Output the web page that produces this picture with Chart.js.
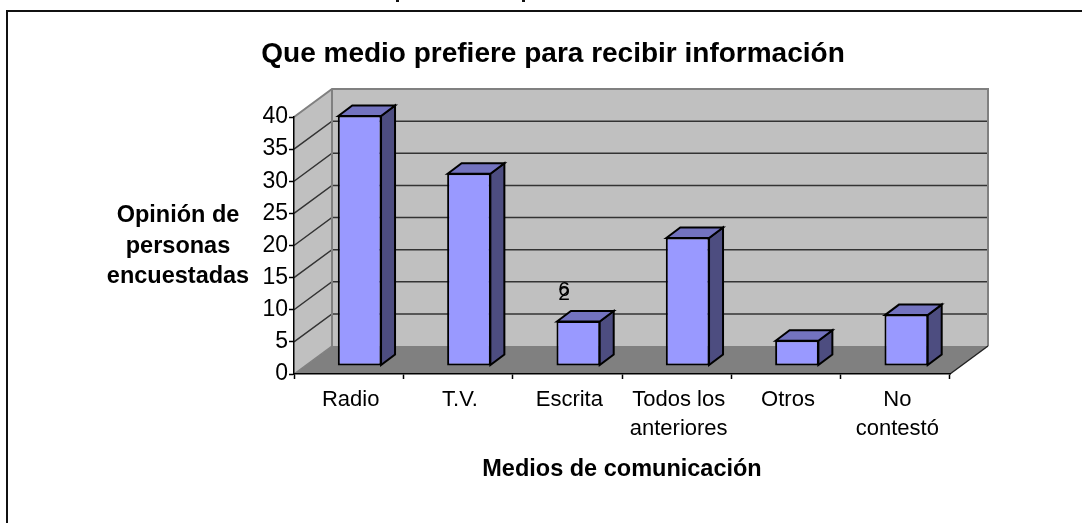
<!DOCTYPE html>
<html>
<head>
<meta charset="utf-8">
<style>
  html, body { margin: 0; padding: 0; background: #fff; overflow: hidden; }
  #wrap { position: relative; width: 1082px; height: 523px; }
</style>
<script src="https://cdn.jsdelivr.net/npm/chart.js@4"></script>
</head>
<body>
<div id="wrap"><canvas id="chart"></canvas></div>
<script>
const categories = ["Radio", "T.V.", "Escrita", ["Todos los", "anteriores"], "Otros", ["No", "contestó"]];
const opinions = [39, 30, 7, 20, 4, 8];
const yTicks = [0, 5, 10, 15, 20, 25, 30, 35, 40];
const chartTitle = "Que medio prefiere para recibir información";
const yTitleLines = ["Opinión de", "personas", "encuestadas"];
const xTitle = "Medios de comunicación";
const strayLabels = ["6", "2"];

const FONT = '"Liberation Sans", Arial, sans-serif';
const DEPTH_X = 38, DEPTH_Y = 28;      // back wall offset
const BAR_X = 11, BAR_Y = 8;           // bars sit in the middle of the floor
const SIDE_X = 14, SIDE_Y = 10.5;      // bar depth

function poly(ctx, pts, fill, stroke, lw) {
  ctx.beginPath();
  pts.forEach((p, i) => (i ? ctx.lineTo(p[0], p[1]) : ctx.moveTo(p[0], p[1])));
  ctx.closePath();
  ctx.fillStyle = fill;
  ctx.fill();
  if (stroke) {
    ctx.strokeStyle = stroke;
    ctx.lineWidth = lw;
    ctx.stroke();
  }
}

const box3d = {
  id: "box3d",
  beforeDraw(chart) {
    const { ctx, chartArea: a, scales } = chart;
    const l = a.left, r = a.right, t = a.top, b = a.bottom;

    // frame cut by the page edge, with the bits of heading above it
    ctx.save();
    ctx.fillStyle = "#111";
    ctx.fillRect(6, 10, 1076, 2);
    ctx.fillRect(6, 10, 2, 513);
    ctx.fillRect(396, 0, 3, 2);
    ctx.fillRect(522, 0, 3, 2);

    // walls and floor
    poly(ctx, [[l + DEPTH_X, t - DEPTH_Y], [r + DEPTH_X, t - DEPTH_Y], [r + DEPTH_X, b - DEPTH_Y], [l + DEPTH_X, b - DEPTH_Y]], "#C0C0C0");
    poly(ctx, [[l, t], [l + DEPTH_X, t - DEPTH_Y], [l + DEPTH_X, b - DEPTH_Y], [l, b]], "#C0C0C0");
    poly(ctx, [[l, b], [l + DEPTH_X, b - DEPTH_Y], [r + DEPTH_X, b - DEPTH_Y], [r, b]], "#808080");

    // grid on both walls
    yTicks.slice(1, -1).forEach((v) => {
      const y = scales.y.getPixelForValue(v);
      ctx.beginPath();
      ctx.moveTo(l, y);
      ctx.lineTo(l + DEPTH_X, y - DEPTH_Y);
      ctx.lineTo(r + DEPTH_X, y - DEPTH_Y);
      ctx.strokeStyle = "#333";
      ctx.lineWidth = 1.5;
      ctx.stroke();
    });

    // wall edges
    ctx.strokeStyle = "#808080";
    ctx.lineWidth = 2;
    ctx.beginPath();
    ctx.moveTo(l, t);
    ctx.lineTo(l + DEPTH_X, t - DEPTH_Y);
    ctx.lineTo(r + DEPTH_X, t - DEPTH_Y);
    ctx.lineTo(r + DEPTH_X, b - DEPTH_Y);
    ctx.moveTo(l + DEPTH_X, t - DEPTH_Y);
    ctx.lineTo(l + DEPTH_X, b - DEPTH_Y);
    ctx.stroke();

    // floor front edges
    ctx.strokeStyle = "#222";
    ctx.lineWidth = 1.5;
    ctx.beginPath();
    ctx.moveTo(r, b);
    ctx.lineTo(r + DEPTH_X, b - DEPTH_Y);
    ctx.stroke();
    ctx.strokeStyle = "#808080";
    ctx.beginPath();
    ctx.moveTo(l, b);
    ctx.lineTo(l + DEPTH_X, b - DEPTH_Y);
    ctx.stroke();
    ctx.restore();
  },
  beforeDatasetDraw(chart, args) {
    const ctx = chart.ctx;
    ctx.save();
    ctx.translate(BAR_X, -BAR_Y);
    chart.getDatasetMeta(args.index).data.forEach((bar) => {
      const p = bar.getProps(["x", "y", "base", "width"], true);
      const x0 = p.x - p.width / 2 + 0.5, x1 = p.x + p.width / 2 - 0.5;
      const y0 = p.y + 0.5, y1 = p.base - 0.5;
      poly(ctx, [[x1, y0], [x1 + SIDE_X, y0 - SIDE_Y], [x1 + SIDE_X, y1 - SIDE_Y], [x1, y1]], "#4D4D80", "#000", 2);
      poly(ctx, [[x0, y0], [x0 + SIDE_X, y0 - SIDE_Y], [x1 + SIDE_X, y0 - SIDE_Y], [x1, y0]], "#7373BF", "#000", 2);
    });
  },
  afterDatasetDraw(chart) {
    chart.ctx.restore();
  },
  afterDraw(chart) {
    const ctx = chart.ctx;
    ctx.save();
    ctx.fillStyle = "#000";
    ctx.textAlign = "center";
    ctx.textBaseline = "alphabetic";

    ctx.font = "bold 28px " + FONT;
    ctx.fillText(chartTitle, 553, 62);

    ctx.font = "bold 23.5px " + FONT;
    yTitleLines.forEach((line, i) => ctx.fillText(line, 178, 222 + i * 30.5));

    // the two labels printed on top of each other above the Escrita bar
    ctx.font = "21px " + FONT;
    ctx.fillText(strayLabels[0], 564, 296);
    ctx.fillText(strayLabels[1], 564, 300);
    ctx.restore();
  },
};

new Chart(document.getElementById("chart"), {
  type: "bar",
  data: {
    labels: categories,
    datasets: [{
      data: opinions,
      backgroundColor: "#9999FF",
      borderColor: "#000",
      borderWidth: 2,
      borderSkipped: false,
      barPercentage: 0.4,
      categoryPercentage: 1,
      clip: false,
    }],
  },
  options: {
    responsive: true,
    maintainAspectRatio: false,
    animation: false,
    layout: { padding: { top: 117, right: 132, left: 0, bottom: 0 } },
    plugins: { legend: { display: false }, title: { display: false }, tooltip: { enabled: false } },
    scales: {
      x: {
        afterFit(scale) { scale.height = 149; },
        grid: { drawOnChartArea: false, tickLength: 5, tickColor: "#000", tickWidth: 1.5 },
        border: { color: "#000", width: 1.5 },
        ticks: { color: "#000", maxRotation: 0, autoSkip: false, padding: 6, labelOffset: 2, font: { family: FONT, size: 22, lineHeight: 1.33 } },
        title: { display: true, text: xTitle, color: "#000", padding: { top: 0, bottom: 39 }, font: { family: FONT, size: 23.5, weight: "bold" } },
      },
      y: {
        min: 0,
        max: 40,
        afterFit(scale) { scale.width = 294; },
        afterBuildTicks(scale) { scale.ticks = yTicks.map((v) => ({ value: v })); },
        grid: { drawOnChartArea: false, tickLength: 5, tickColor: "#000", tickWidth: 1.5 },
        border: { color: "#000", width: 1.5 },
        ticks: { color: "#000", padding: 1, font: { family: FONT, size: 23 } },
      },
    },
  },
  plugins: [box3d],
});
</script>
</body>
</html>
